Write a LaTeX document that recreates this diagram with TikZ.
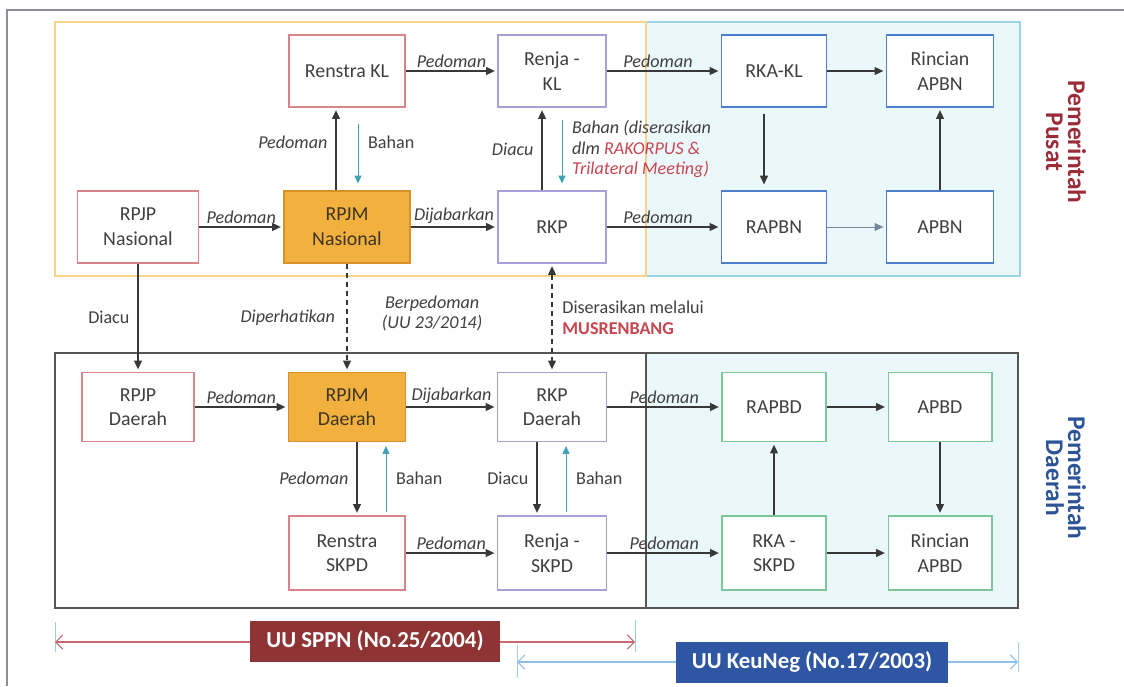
\documentclass[tikz,border=0pt]{standalone}
\usepackage{fontspec}
\setmainfont{Carlito}
\usetikzlibrary{arrows.meta}

\definecolor{teks}{HTML}{404040}
\definecolor{garis}{HTML}{383838}
\definecolor{garismuda}{HTML}{7A8798}
\definecolor{tosca}{HTML}{3FA3B5}
\definecolor{merah}{HTML}{D9848C}
\definecolor{ungu}{HTML}{A99ED6}
\definecolor{biru}{HTML}{4F7FCC}
\definecolor{hijau}{HTML}{7BC79A}
\definecolor{oranye}{HTML}{F2B13E}
\definecolor{oranyetua}{HTML}{D9902A}
\definecolor{coklat}{HTML}{3D3424}
\definecolor{kuning}{HTML}{F5D48A}
\definecolor{birumuda}{HTML}{9BD3EA}
\definecolor{cyanmuda}{HTML}{EBF8FB}
\definecolor{abu}{HTML}{555555}
\definecolor{bingkai}{HTML}{8C9099}
\definecolor{merahteks}{HTML}{C8454F}
\definecolor{merahpusat}{HTML}{9B2C3A}
\definecolor{birudaerah}{HTML}{2C5496}
\definecolor{merahtua}{HTML}{8E3434}
\definecolor{birutua}{HTML}{2E56A2}
\definecolor{dimmerah}{HTML}{C96772}
\definecolor{dimbiru}{HTML}{8EC0E8}
\definecolor{tanda}{HTML}{9FD0E0}

\begin{document}
\begin{tikzpicture}[x=0.02cm, y=-0.02cm,
  every node/.style={text=teks},
  blok/.style={draw=#1, line width=0.6pt, fill=white, minimum height=1.44cm, align=center, font=\fontsize{11.3}{14}\selectfont},
  panah/.style={draw=garis, line width=0.8pt, -{Triangle[length=5pt,width=4.5pt]}, shorten >=1.5pt},
  bahan/.style={draw=tosca, line width=0.55pt, -{Triangle[length=4.5pt,width=4pt]}},
  putus/.style={panah, dash pattern=on 3pt off 2.2pt},
  ket/.style={font=\fontsize{10.3}{11.5}\selectfont\itshape, inner sep=1.5pt},
  ketn/.style={font=\fontsize{10.3}{11.5}\selectfont, inner sep=1.5pt},
  sisi/.style={rotate=-90, align=center, font=\fontsize{14.5}{12.5}\selectfont\bfseries},
  uu/.style={fill=#1, text=white, font=\fontsize{13}{16}\selectfont\bfseries, minimum height=0.82cm},
  ukur/.style={draw=#1, line width=0.6pt, {Straight Barb[length=4pt,width=8pt]}-{Straight Barb[length=4pt,width=8pt]}},
  tandaujung/.style={draw=tanda, line width=0.5pt}]
  \useasboundingbox (0,0) rectangle (1124,686);
  \fill[white] (0,0) rectangle (1124,686);
  \draw[bingkai, line width=0.7pt] (7,686) -- (7,10) -- (1124,10);
  %Pusat
  \draw[draw=birumuda, fill=cyanmuda, line width=0.6pt] (646,22) rectangle (1020,276);
  \draw[draw=kuning, line width=0.6pt] (55,22) rectangle (646,276);
  %Daerah
  \fill[cyanmuda] (646,353) rectangle (1018,608);
  \draw[abu, line width=0.6pt] (55,353) rectangle (1018,608);
  \draw[abu, line width=0.6pt] (646,353) -- (646,608);

  \node[blok=merah, minimum width=2.32cm] (RenstraKL) at (347,71) {Renstra KL};
  \node[blok=ungu, minimum width=2.16cm] (RenjaKL) at (552,71) {Renja -\\KL};
  \node[blok=biru, minimum width=2.1cm] (RKAKL) at (774,71) {RKA-KL};
  \node[blok=biru, minimum width=2.14cm] (RincianAPBN) at (940,71) {Rincian\\APBN};

  \node[blok=merah, minimum width=2.42cm] (RPJPN) at (138,227) {RPJP\\Nasional};
  \node[blok=oranyetua, fill=oranye, text=coklat, minimum width=2.52cm] (RPJMN) at (347,227) {RPJM\\Nasional};
  \node[blok=ungu, minimum width=2.16cm] (RKP) at (552,227) {RKP};
  \node[blok=biru, minimum width=2.1cm] (RAPBN) at (774,227) {RAPBN};
  \node[blok=biru, minimum width=2.14cm] (APBN) at (940,227) {APBN};

  \node[blok=merah, minimum width=2.24cm, minimum height=1.38cm] (RPJPD) at (138,407) {RPJP\\Daerah};
  \node[blok=oranyetua, fill=oranye, text=coklat, minimum width=2.34cm, minimum height=1.38cm] (RPJMD) at (347,407) {RPJM\\Daerah};
  \node[blok=ungu, minimum width=2.18cm, minimum height=1.38cm] (RKPD) at (552,407) {RKP\\Daerah};
  \node[blok=hijau, minimum width=2.08cm, minimum height=1.38cm] (RAPBD) at (774,407) {RAPBD};
  \node[blok=hijau, minimum width=2.08cm, minimum height=1.38cm] (APBD) at (940,407) {APBD};

  \node[blok=merah, minimum width=2.32cm, minimum height=1.48cm] (RenstraSKPD) at (347,553) {Renstra\\SKPD};
  \node[blok=ungu, minimum width=2.18cm, minimum height=1.48cm] (RenjaSKPD) at (552,553) {Renja -\\SKPD};
  \node[blok=hijau, minimum width=2.08cm, minimum height=1.48cm] (RKASKPD) at (774,553) {RKA -\\SKPD};
  \node[blok=hijau, minimum width=2.08cm, minimum height=1.48cm] (RincianAPBD) at (940,553) {Rincian\\APBD};

  \draw[panah] (RenstraKL) -- node[ket, above] {Pedoman} (RenjaKL);
  \draw[panah] (RenjaKL) -- node[ket, above, pos=0.45] {Pedoman} (RKAKL);
  \draw[panah] (RKAKL) -- (RincianAPBN);
  \draw[panah] (RPJPN) -- node[ket, above] {Pedoman} (RPJMN);
  \draw[panah] (RPJMN) -- node[ket, above] {Dijabarkan} (RKP);
  \draw[panah] (RKP) -- node[ket, above, pos=0.45] {Pedoman} (RAPBN);
  \draw[panah, draw=garismuda, line width=0.5pt] (RAPBN) -- (APBN);
  \draw[panah, shorten <=0.12cm, shorten >=0.12cm] ([xshift=-0.2cm]RKAKL.south) -- ([xshift=-0.2cm]RAPBN.north);
  \draw[panah] (APBN) -- (RincianAPBN);
  \draw[panah] ([xshift=-0.22cm]RPJMN.north) -- node[ket, left=3pt, pos=0.58] {Pedoman} ([xshift=-0.22cm]RenstraKL.south);
  \draw[bahan, shorten <=0.32cm, shorten >=0.14cm] ([xshift=0.22cm]RenstraKL.south) -- node[ketn, right=4pt, pos=0.42] {Bahan} ([xshift=0.22cm]RPJMN.north);
  \draw[panah] ([xshift=-0.2cm]RKP.north) -- node[ket, left=3pt] {Diacu} ([xshift=-0.2cm]RenjaKL.south);
  \draw[bahan, shorten <=0.24cm, shorten >=0.14cm] ([xshift=0.2cm]RenjaKL.south) -- node[ket, right=4pt, align=left] {Bahan (diserasikan\\dlm {\color{merahteks}RAKORPUS \&}\\{\color{merahteks}Trilateral Meeting)}} ([xshift=0.2cm]RKP.north);

  \draw[panah] (RPJPN) -- node[ketn, left=3pt] {Diacu} (RPJPD);
  \draw[putus] (RPJMN) -- node[ket, left=5pt] {Diperhatikan} node[ket, right=18pt, align=center, yshift=0.08cm] {Berpedoman\\(UU 23/2014)} (RPJMD);
  \draw[putus, {Triangle[length=5pt,width=4.5pt]}-{Triangle[length=5pt,width=4.5pt]}, shorten <=1.5pt] (RKP) -- node[ketn, right=4pt, align=left] {Diserasikan melalui\\{\color{merahteks}\bfseries MUSRENBANG}} (RKPD);

  \draw[panah] (RPJPD) -- node[ket, above] {Pedoman} (RPJMD);
  \draw[panah] (RPJMD) -- node[ket, above] {Dijabarkan} (RKPD);
  \draw[panah] (RKPD) -- node[ket, above] {Pedoman} (RAPBD);
  \draw[panah] (RAPBD) -- (APBD);
  \draw[panah] (APBD) -- (RincianAPBD);
  \draw[panah] (RKASKPD) -- (RAPBD);
  \draw[panah] ([xshift=0.2cm]RPJMD.south) -- node[ket, left=3pt] {Pedoman} ([xshift=0.2cm]RenstraSKPD.north);
  \draw[bahan, shorten <=0.06cm, shorten >=0.08cm] ([xshift=0.78cm]RenstraSKPD.north) -- node[ketn, right=4pt] {Bahan} ([xshift=0.78cm]RPJMD.south);
  \draw[panah] ([xshift=-0.3cm]RKPD.south) -- node[ketn, left=3pt] {Diacu} ([xshift=-0.3cm]RenjaSKPD.north);
  \draw[bahan, shorten <=0.06cm, shorten >=0.08cm] ([xshift=0.28cm]RenjaSKPD.north) -- node[ketn, right=4pt] {Bahan} ([xshift=0.28cm]RKPD.south);
  \draw[panah] (RenstraSKPD) -- node[ket, above] {Pedoman} (RenjaSKPD);
  \draw[panah] (RenjaSKPD) -- node[ket, above] {Pedoman} (RKASKPD);
  \draw[panah] (RKASKPD) -- (RincianAPBD);

  \node[sisi, text=merahpusat] (LblPusat) at (1066,142) {Pemerintah\\Pusat};
  \node[sisi, text=birudaerah] (LblDaerah) at (1066,478) {Pemerintah\\Daerah};

  %Undang-undang
  \coordinate (SppnKiri) at (55,642);
  \coordinate (SppnKanan) at (635,642);
  \coordinate (KeuKiri) at (517,662);
  \coordinate (KeuKanan) at (1018,662);
  \draw[tandaujung] (55,622) -- (55,652) (635,620) -- (635,652);
  \draw[tandaujung] (517,645) -- (517,678) (1018,642) -- (1018,672);
  \draw[ukur=dimmerah] (SppnKiri) -- (SppnKanan);
  \draw[ukur=dimbiru] (KeuKiri) -- (KeuKanan);
  \node[uu=merahtua, minimum width=5cm] (UUSPPN) at (375,641) {UU SPPN (No.25/2004)};
  \node[uu=birutua, minimum width=5.46cm] (UUKeuNeg) at (812,662) {UU KeuNeg (No.17/2003)};
\end{tikzpicture}
\end{document}
